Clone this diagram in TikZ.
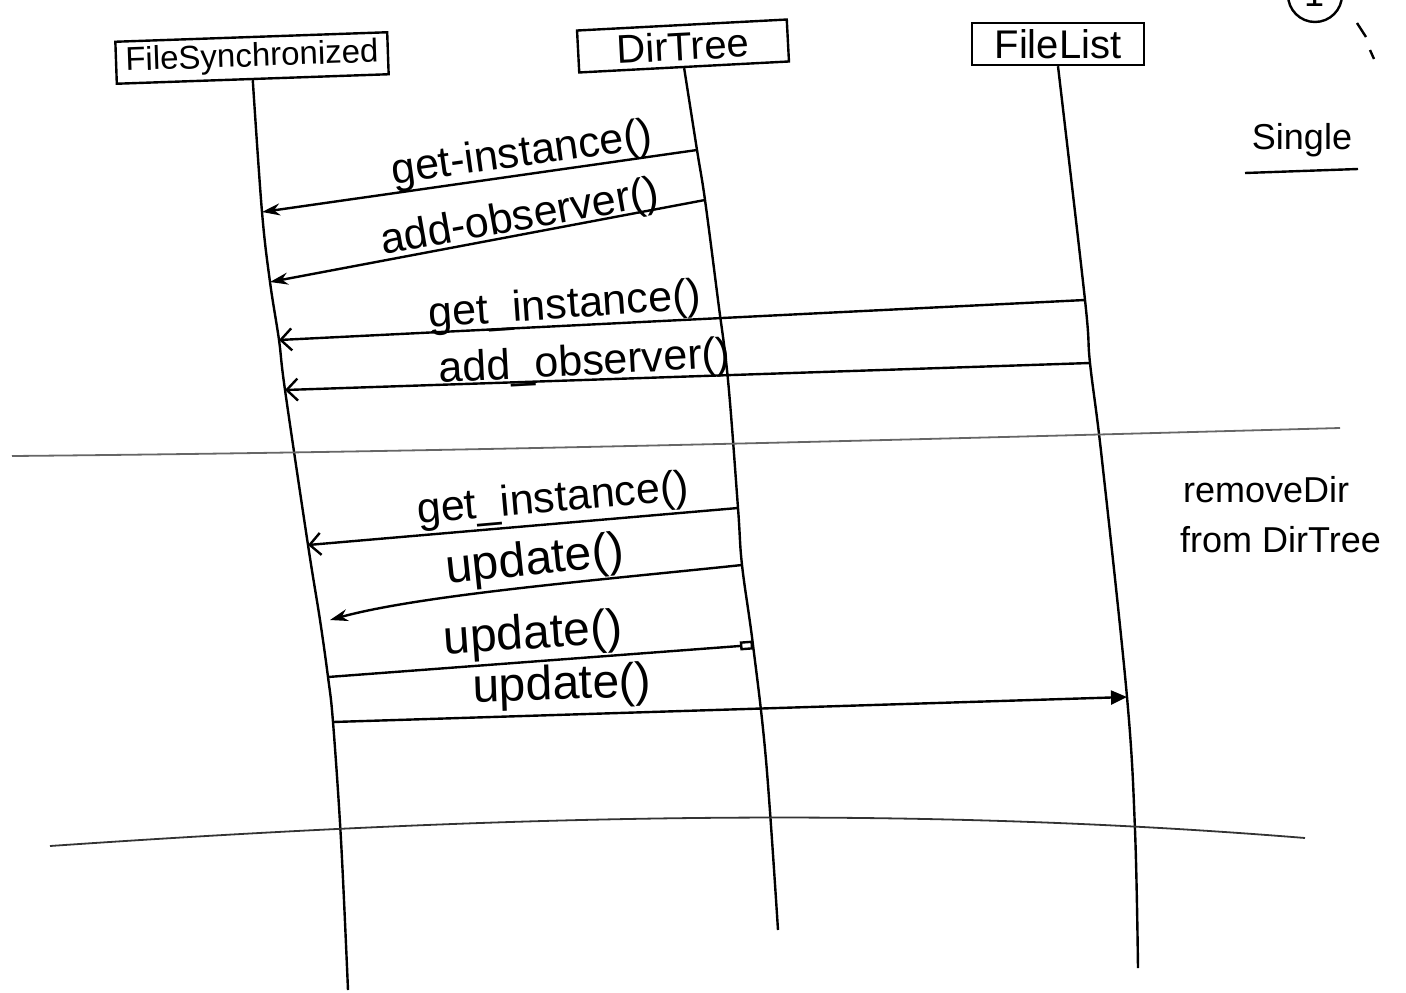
\documentclass[tikz,border=0pt]{standalone}
\usepackage{fontspec}
\setmainfont{Liberation Sans}
\usetikzlibrary{arrows.meta,calc}
\begin{document}
\begin{tikzpicture}[x=1pt,y=-1pt,
  pen/.style={line width=2.4pt,black},
  obj/.style={draw,line width=2.4pt,minimum height=42pt,inner sep=2pt,font=\fontsize{40}{42}\selectfont},
  msg/.style={font=\fontsize{43}{45}\selectfont,inner sep=0pt},
  bigmsg/.style={font=\fontsize{48}{50}\selectfont,inner sep=0pt},
  note/.style={font=\fontsize{36}{38}\selectfont,inner sep=0pt},
  call/.style={pen,-{Stealth[length=18pt,width=12pt]}},
  opencall/.style={pen,-{Straight Barb[length=11pt,width=22pt]}},
  boxcall/.style={pen,-{Rectangle[open,length=13pt,width=9pt]}},
  tricall/.style={pen,-{Triangle[length=16pt,width=14pt]}},
  sep/.style={line width=1.8pt,black!60},
]
\useasboundingbox (0,0) rectangle (1406,993);

% objects
\node[obj,minimum width=272pt,rotate=2,font=\fontsize{33}{35}\selectfont] (fs) at (252,58) {FileSynchronized};
\node[obj,minimum width=210pt,rotate=3] (dt) at (683,46) {DirTree};
\node[obj,minimum width=172pt] (fl) at (1058,44) {FileList};

% message end points on the lifelines
\coordinate (f1) at (262,212);
\coordinate (f2) at (270,282);
\coordinate (f3) at (279,340);
\coordinate (f4) at (285,390);
\coordinate (f5) at (308,545);
\coordinate (f6) at (320,620);
\coordinate (f7) at (328,677);
\coordinate (f8) at (333,722);
\coordinate (fsEnd) at (348,990);

\coordinate (d1) at (697,150);
\coordinate (d2) at (705,200);
\coordinate (d3) at (738,508);
\coordinate (d4) at (742,565);
\coordinate (d5) at (753,645);
\coordinate (dtEnd) at (778,930);

\coordinate (l1) at (1085,300);
\coordinate (l2) at (1090,363);
\coordinate (l3) at (1127,697);
\coordinate (flEnd) at (1138,968);

% lifelines
\draw[pen] plot[smooth,tension=0.6] coordinates {(fs.south) (f1) (f2) (f3) (f4) (f5) (f6) (f7) (f8) (341,840) (fsEnd)};
\draw[pen] plot[smooth,tension=0.6] coordinates {(dt.south) (d1) (d2) (718,300) (728,380) (d3) (d4) (d5) (766,760) (dtEnd)};
\draw[pen] plot[smooth,tension=0.6] coordinates {(fl.south) (l1) (l2) (1102,460) (l3) (1135,830) (flEnd)};

% separators
\draw[sep] (12,456) .. controls (450,452) and (900,440) .. (1340,428);
\draw[sep,black!80] (50,846) .. controls (500,815) and (900,805) .. (1305,838);

% messages
\draw[call] (d1) -- (f1);
\node[msg,rotate=8] (m1) at (522,155) {get-instance()};
\draw[call] (d2) -- (f2);
\node[msg,rotate=10] (m2) at (520,219) {add-observer()};
\draw[opencall] (l1) -- (f3);
\node[msg,rotate=4] (m3) at (565,307) {get\_instance()};
\draw[opencall] (l2) -- (f4);
\node[msg,rotate=3] (m4) at (585,364) {add\_observer()};

\draw[opencall] (d3) -- (f5);
\node[msg,rotate=5] (m5) at (553,501) {get\_instance()};
\draw[call] (d4) .. controls (600,580) and (420,595) .. ($(f6)+(10,0)$);
\node[bigmsg,rotate=6] (m6) at (535,562) {update()};
\draw[boxcall] (f7) -- (d5);
\node[bigmsg,rotate=4] (m7) at (533,636) {update()};
\draw[tricall] (f8) -- (l3);
\node[bigmsg,rotate=2] (m8) at (562,687) {update()};

% notes
\draw[pen] (1315,-5) circle[radius=27pt];
\node[font=\fontsize{36}{38}\selectfont,inner sep=0pt] (one) at (1314,-6) {1};
\draw[pen] (1357,23) -- (1366,37);
\draw[pen] (1370,50) -- (1374,59);

\node[note] (single) at (1302,140) {Single};
\draw[pen] (1245,173) -- (1358,169);

\node[note,anchor=west] (rm1) at (1183,490) {removeDir};
\node[note,anchor=west] (rm2) at (1180,540) {from DirTree};
\end{tikzpicture}
\end{document}
